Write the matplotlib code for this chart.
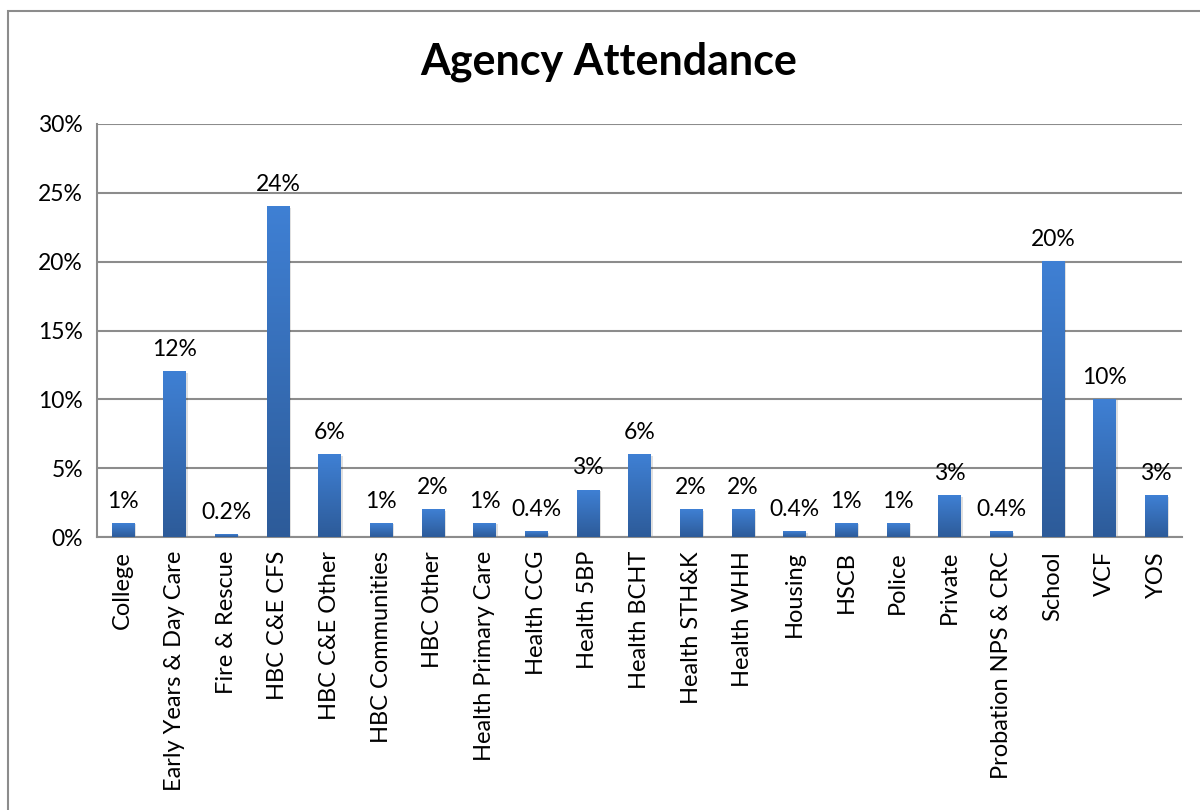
import numpy as np
import matplotlib.pyplot as plt
from matplotlib.colors import LinearSegmentedColormap
from matplotlib.patches import Rectangle
from matplotlib.ticker import FuncFormatter

agencies = ["College", "Early Years & Day Care", "Fire & Rescue", "HBC C&E CFS",
            "HBC C&E Other", "HBC Communities", "HBC Other", "Health Primary Care",
            "Health CCG", "Health 5BP", "Health BCHT", "Health STH&K", "Health WHH",
            "Housing", "HSCB", "Police", "Private", "Probation NPS & CRC",
            "School", "VCF", "YOS"]
attendance = [1, 12, 0.2, 24, 6, 1, 2, 1, 0.4, 3.4, 6, 2, 2, 0.4, 1, 1, 3, 0.4, 20, 10, 3]
labels = ["1%", "12%", "0.2%", "24%", "6%", "1%", "2%", "1%", "0.4%", "3%", "6%",
          "2%", "2%", "0.4%", "1%", "1%", "3%", "0.4%", "20%", "10%", "3%"]

plt.rcParams['font.family'] = ['Lato', 'DejaVu Sans']

fig = plt.figure(figsize=(12, 8.1), dpi=100)
# outer chart frame
fig.patches.append(Rectangle((8/1200, -0.1), 1.2, 1.1 - 11/810, transform=fig.transFigure,
                             fill=False, edgecolor='#8c8c8c', linewidth=1.5))
ax = fig.add_axes([97/1200, 1 - 537/810, (1182 - 97)/1200, (537 - 124)/810])

x = np.arange(len(agencies))
bars = ax.bar(x, attendance, width=0.43, color='#3a74c0', zorder=3)

cmap = LinearSegmentedColormap.from_list('grad', ['#2d5b99', '#3f80d4'])
grad = np.linspace(0, 1, 256).reshape(-1, 1)
for b in bars:
    x0, y0, w, h = b.get_x(), b.get_y(), b.get_width(), b.get_height()
    # soft shadow
    ax.add_patch(Rectangle((x0 + 0.04, y0), w, h - 0.08, facecolor='#000000',
                           alpha=0.12, zorder=2, linewidth=0))
    ax.imshow(grad, cmap=cmap, extent=(x0, x0 + w, y0, y0 + h), origin='lower',
              aspect='auto', zorder=4)
    b.set_visible(False)

for xi, v, lab in zip(x, attendance, labels):
    ax.text(xi, v + 0.85, lab, ha='center', va='bottom', fontsize=16.5, color='black', zorder=5)

ax.set_xlim(-0.5, len(agencies) - 0.5)
ax.set_ylim(0, 30)
ax.set_yticks(np.arange(0, 31, 5))
ax.yaxis.set_major_formatter(FuncFormatter(lambda v, p: f"{v:.0f}%"))
ax.set_xticks(x)
ax.set_xticklabels(agencies, rotation=90, fontsize=17)
ax.tick_params(axis='y', labelsize=16.5, length=0, pad=10)
ax.tick_params(axis='x', length=0, pad=10)
ax.grid(axis='y', color='#8c8c8c', linewidth=1.5, zorder=0)
for s in ['top', 'right']:
    ax.spines[s].set_visible(False)
ax.spines['left'].set_color('#8c8c8c')
ax.spines['bottom'].set_color('#8c8c8c')
ax.spines['left'].set_linewidth(1.5)
ax.spines['bottom'].set_linewidth(1.5)

fig.text(609/1200, 1 - 62/810, "Agency Attendance", ha='center', va='center',
         fontsize=31, fontweight='bold')

fig.savefig("out.png", dpi=100)
